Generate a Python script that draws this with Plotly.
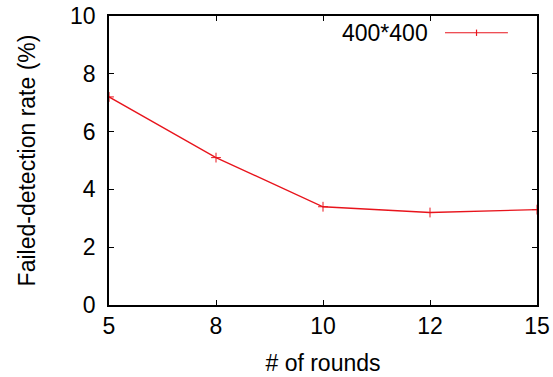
import plotly.graph_objects as go

rounds = ["5", "8", "10", "12", "15"]
rate_400 = [7.2, 5.1, 3.4, 3.2, 3.3]
series_name = "400*400"
y_ticks = [0, 2, 4, 6, 8, 10]

RED = "#e8141c"
FONT = "Liberation Sans, Arial, Helvetica, sans-serif"
FS = 23

fig = go.Figure()
fig.add_trace(go.Scatter(
    x=rounds, y=rate_400, mode="lines+markers", name=series_name,
    line=dict(color=RED, width=1.3),
    marker=dict(symbol="cross-thin", size=7, line=dict(color=RED, width=1)),
    showlegend=False, hoverinfo="skip",
))

axis_common = dict(
    showline=True, linecolor="black", linewidth=1.5, mirror="ticks",
    ticks="inside", ticklen=5, tickwidth=1, tickcolor="black",
    showgrid=False, zeroline=False, automargin=False,
    tickfont=dict(family=FONT, size=FS, color="black"),
)

fig.update_layout(
    width=553, height=377, autosize=False,
    margin=dict(l=109, r=16, t=16, b=72, autoexpand=False),
    paper_bgcolor="white", plot_bgcolor="white",
    font=dict(family=FONT, size=FS, color="black"),
    xaxis=dict(type="category", range=[0, 4], categoryorder="array",
               categoryarray=rounds,
               title=dict(text="# of rounds", font=dict(family=FONT, size=FS), standoff=17),
               **axis_common),
    yaxis=dict(range=[0, 10], tickvals=y_ticks, ticklabelstandoff=7,
               title=dict(text="Failed-detection rate (%)", font=dict(family=FONT, size=FS), standoff=28),
               **axis_common),
)

# legend key (gnuplot style: text left of sample)
fig.add_annotation(xref="paper", yref="paper", x=0.75, y=0.942, text=series_name,
                   showarrow=False, xanchor="right", yanchor="middle",
                   font=dict(family=FONT, size=FS, color="black"))
fig.add_shape(type="line", xref="paper", yref="paper", x0=0.785, x1=0.932,
              y0=0.942, y1=0.942, line=dict(color=RED, width=1.2))
fig.add_shape(type="line", xref="paper", yref="paper", x0=0.8587, x1=0.8587,
              y0=0.931, y1=0.953, line=dict(color=RED, width=1.2))

fig.write_html("out.html", config={"displayModeBar": False},
               post_script="document.body.style.margin='0';document.body.style.overflow='hidden';")
